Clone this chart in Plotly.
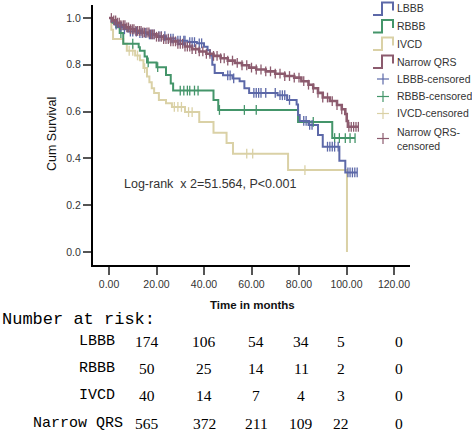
import numpy as np
import plotly.graph_objects as go

# ---------------- data ----------------
groups = ["LBBB", "RBBB", "IVCD", "Narrow QRS"]

lbbb_t = [0, 1, 2.5, 4, 6, 8, 12, 16, 20, 24, 28, 33, 37, 40, 41.5, 42.5, 43.5, 44.5,
          48, 52, 55, 57, 59, 71, 75, 79, 79.6, 80.3, 84, 88, 90, 97, 99.5]
lbbb_s = [1.0, 0.985, 0.972, 0.962, 0.952, 0.942, 0.936, 0.93, 0.922, 0.912, 0.903, 0.897, 0.892,
          0.877, 0.862, 0.84, 0.8, 0.765, 0.755, 0.742, 0.73, 0.70, 0.68, 0.67, 0.65, 0.63,
          0.585, 0.56, 0.543, 0.50, 0.45, 0.39, 0.34]
lbbb_end = 104.5
lbbb_cens = [3, 5, 6.5, 9, 10, 11.5, 13, 14, 15.5, 17, 18, 19, 21, 22, 23.5, 25, 26, 27, 29, 30,
             31.5, 32, 34, 35, 36, 38, 39, 50, 51, 52.5, 61, 62, 63, 64, 66, 70, 72, 73, 74, 76,
             82, 83, 84.5, 85.5, 92, 93, 94, 95, 96.5, 100.6, 101.5, 102.5, 103.5, 104.5]

rbbb_t = [0, 1.5, 3, 4.5, 6, 12.5, 13, 15, 16, 20, 24, 26, 27, 44, 46, 79.6, 94]
rbbb_s = [1.0, 0.98, 0.96, 0.936, 0.89, 0.875, 0.86, 0.835, 0.81, 0.79, 0.756, 0.72, 0.69,
          0.65, 0.607, 0.556, 0.487]
rbbb_end = 103.6
rbbb_cens = [5, 10, 16.5, 20.5, 30, 31.5, 33, 34, 36, 37.5, 46.5, 57, 62, 86, 95, 97, 99.5,
             101.5, 103.6]

ivcd_t = [0, 1, 1.7, 6, 7.5, 11, 13, 14.5, 16, 17, 18, 19, 21, 24, 26.5, 32, 38, 44, 49.5,
          52.2, 75.4, 100.2]
ivcd_s = [1.0, 0.95, 0.91, 0.89, 0.86, 0.84, 0.82, 0.786, 0.75, 0.725, 0.70, 0.68, 0.65, 0.636,
          0.62, 0.598, 0.556, 0.51, 0.466, 0.42, 0.35, 0.0]
ivcd_end = None
ivcd_cens = [8.5, 10, 12, 15, 27.5, 29, 30.5, 33.5, 35, 58, 60.5, 82.5]

nqrs_t = [0, 1.5, 3, 5, 7, 9, 11, 14, 17, 20, 23, 26, 29, 32, 35, 38, 41, 44, 47, 50, 53, 56,
          59, 62, 66, 70, 74, 78, 81, 84, 86, 88, 90, 93, 96, 98, 99.5, 100.1, 100.6]
nqrs_s = [1.0, 0.99, 0.98, 0.97, 0.96, 0.952, 0.945, 0.938, 0.93, 0.92, 0.91, 0.9, 0.89, 0.878,
          0.867, 0.857, 0.847, 0.838, 0.828, 0.818, 0.808, 0.798, 0.788, 0.78, 0.772, 0.762,
          0.752, 0.745, 0.73, 0.715, 0.70, 0.68, 0.66, 0.645, 0.628, 0.61, 0.59, 0.56, 0.535]
nqrs_end = 105
nqrs_cens = [1, 2, 2.8, 3.5, 4.3, 5, 6, 6.7, 7.5, 8.2, 9, 9.8, 10.5, 11.3, 12, 12.8, 13.5, 14.3,
             15, 16, 16.8, 17.5, 18.3, 19, 20, 21, 22, 23, 24, 25, 26, 27, 28, 29, 30, 31, 32,
             33, 34, 35, 36.5, 38, 39.5, 41, 42.5, 44, 45.5, 47, 48.5, 50, 52, 54, 56, 58, 60,
             62, 64, 66, 68, 70, 72, 74, 76, 78, 80, 82, 84, 86, 88, 90, 92, 94, 96, 98, 101,
             102, 103, 104, 105]

x_ticks = [0, 20, 40, 60, 80, 100, 120]
y_ticks = [0.0, 0.2, 0.4, 0.6, 0.8, 1.0]

risk_lbbb = [174, 106, 54, 34, 5, 0]
risk_rbbb = [50, 25, 14, 11, 2, 0]
risk_ivcd = [40, 14, 7, 4, 3, 0]
risk_nqrs = [565, 372, 211, 109, 22, 0]

stat_text = "Log-rank\u00a0\u00a0x 2=51.564, P<0.001"

# ---------------- styles ----------------
colors = {"LBBB": "#5c68a8", "RBBB": "#44956a", "IVCD": "#dad1a6", "Narrow QRS": "#8c5b6e"}
W, H = 472, 432
ML, MR, MT, MB = 93, 62, 5, 167
SANS = "Liberation Sans, Arial, sans-serif"


def px2paper(px, py):
    return (px - ML) / (W - ML - MR), (H - MB - py) / (H - MT - MB)


series = {
    "LBBB": (lbbb_t, lbbb_s, lbbb_end, lbbb_cens),
    "RBBB": (rbbb_t, rbbb_s, rbbb_end, rbbb_cens),
    "IVCD": (ivcd_t, ivcd_s, ivcd_end, ivcd_cens),
    "Narrow QRS": (nqrs_t, nqrs_s, nqrs_end, nqrs_cens),
}

fig = go.Figure()
order = ["IVCD", "RBBB", "LBBB", "Narrow QRS"]
for g in order:
    t, s, end, _ = series[g]
    xs, ys = list(t), list(s)
    if end is not None:
        xs.append(end)
        ys.append(s[-1])
    fig.add_trace(go.Scatter(x=xs, y=ys, mode="lines", line_shape="hv",
                             line=dict(color=colors[g], width=2.6 if g == "Narrow QRS" else 2),
                             showlegend=False, hoverinfo="skip"))
for g in order:
    t, s, end, cens = series[g]
    ta = np.array(t)
    sa = np.array(s)
    idx = np.searchsorted(ta, np.array(cens), side="right") - 1
    fig.add_trace(go.Scatter(x=cens, y=sa[idx], mode="markers",
                             marker=dict(symbol="line-ns", size=7,
                                         line=dict(color=colors[g], width=1.3)),
                             showlegend=False, hoverinfo="skip"))

shapes = []
annotations = []

# manual legend
legend_rows = [("LBBB", "step", 8.5), ("RBBB", "step", 26), ("IVCD", "step", 43.5),
               ("Narrow QRS", "step", 61.5)]
for g, _, yc in legend_rows:
    pts = [(373, yc + 6.5), (382, yc + 6.5), (382, yc - 6), (393, yc - 6), (393, yc + 2)]
    path = "M " + " L ".join("%.4f,%.4f" % px2paper(a, b) for a, b in pts)
    shapes.append(dict(type="path", path=path, xref="paper", yref="paper",
                       line=dict(color=colors[g], width=2)))
    x0, y0 = px2paper(395, yc)
    annotations.append(dict(x=x0, y=y0, xref="paper", yref="paper", text=g, showarrow=False,
                            xanchor="left", yanchor="middle",
                            font=dict(family=SANS, size=10.5, color="#333")))
cens_rows = [("LBBB", "LBBB-censored", 79, 79), ("RBBB", "RBBB-censored", 96.5, 96.5),
             ("IVCD", "IVCD-censored", 113.5, 113.5),
             ("Narrow QRS", "Narrow QRS-<br>censored", 138.5, 138.5)]
for g, label, yc, ym in cens_rows:
    for (a0, b0, a1, b1) in [(377, ym, 389, ym), (383, ym - 5.5, 383, ym + 5.5)]:
        p0 = px2paper(a0, b0)
        p1 = px2paper(a1, b1)
        shapes.append(dict(type="line", xref="paper", yref="paper", x0=p0[0], y0=p0[1],
                           x1=p1[0], y1=p1[1], line=dict(color=colors[g], width=1.2)))
    x0, y0 = px2paper(395, yc)
    annotations.append(dict(x=x0, y=y0, xref="paper", yref="paper", text=label, showarrow=False,
                            xanchor="left", yanchor="middle", align="left",
                            font=dict(family=SANS, size=10.5, color="#333")))

# axis titles and statistic
ax, ay = px2paper(52, 134)
annotations.append(dict(x=ax, y=ay, xref="paper", yref="paper", text="Cum Survival",
                        textangle=-90, showarrow=False, xanchor="center", yanchor="middle",
                        font=dict(family=SANS, size=12.5, color="#111")))
ax, ay = px2paper(252, 305)
annotations.append(dict(x=ax, y=ay, xref="paper", yref="paper", text="<b>Time in months</b>",
                        showarrow=False, xanchor="center", yanchor="middle",
                        font=dict(family=SANS, size=11.5, color="#111")))
ax, ay = px2paper(122, 184)
annotations.append(dict(x=ax, y=ay, xref="paper", yref="paper", text=stat_text,
                        showarrow=False, xanchor="left", yanchor="middle",
                        font=dict(family=SANS, size=12.5, color="#333")))

# number at risk table
ax, ay = px2paper(0, 319)
annotations.append(dict(x=ax, y=ay, xref="paper", yref="paper", text="Number at risk:",
                        showarrow=False, xanchor="left", yanchor="middle",
                        font=dict(family="Liberation Mono, monospace", size=17, color="#000")))
risk_rows = [risk_lbbb, risk_rbbb, risk_ivcd, risk_nqrs]
row_y = [341, 368, 395, 423]
label_right = [117, 117, 117, 125]
col_x = [147, 204, 256, 301, 341, 399]
for g, vals, ry, lr in zip(groups, risk_rows, row_y, label_right):
    ax, ay = px2paper(lr, ry)
    annotations.append(dict(x=ax, y=ay, xref="paper", yref="paper", text=g, showarrow=False,
                            xanchor="right", yanchor="middle",
                            font=dict(family="Liberation Mono, monospace", size=15, color="#000")))
    for v, cx in zip(vals, col_x):
        ax, ay = px2paper(cx, ry)
        annotations.append(dict(x=ax, y=ay, xref="paper", yref="paper", text=str(v),
                                showarrow=False, xanchor="center", yanchor="middle",
                                font=dict(family="Liberation Serif, serif", size=15.5,
                                          color="#000")))

fig.update_layout(
    width=W, height=H,
    margin=dict(l=ML, r=MR, t=MT, b=MB, pad=0),
    paper_bgcolor="white", plot_bgcolor="white",
    shapes=shapes, annotations=annotations,
    hovermode=False,
    xaxis=dict(range=[-6.74, 126.74], tickvals=x_ticks, tickformat=".2f",
               showgrid=False, zeroline=False, showline=True, linecolor="#000", linewidth=2,
               ticks="outside", ticklen=8, tickwidth=1.5, tickcolor="#555",
               tickfont=dict(family=SANS, size=10.5, color="#333")),
    yaxis=dict(range=[-0.0556, 1.0556], tickvals=y_ticks, tickformat=".1f",
               showgrid=False, zeroline=False, showline=True, linecolor="#000", linewidth=2,
               ticks="outside", ticklen=8, tickwidth=1.5, tickcolor="#555",
               tickfont=dict(family=SANS, size=10.5, color="#333")),
)

fig.write_html("out.html", config={"displayModeBar": False},
               post_script="document.body.style.margin='0';document.body.style.overflow='hidden';")
